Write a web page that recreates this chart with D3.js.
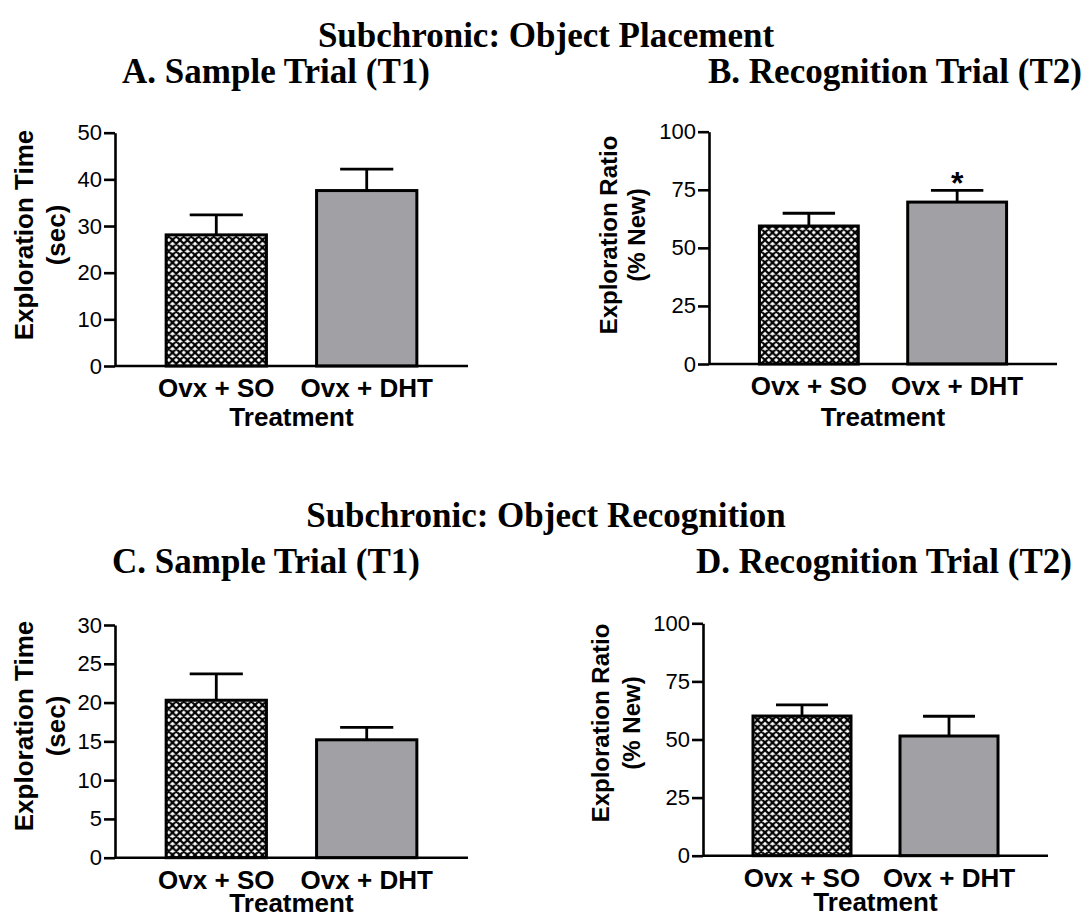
<!DOCTYPE html>
<html>
<head>
<meta charset="utf-8">
<script src="https://cdn.jsdelivr.net/npm/d3@7"></script>
<style>
  html, body { margin: 0; padding: 0; background: #ffffff; }
  svg { display: block; }
  .serif { font-family: "Liberation Serif", "Times New Roman", serif; font-weight: bold; }
  .sans { font-family: "Liberation Sans", Arial, Helvetica, sans-serif; }
</style>
</head>
<body>
<svg id="fig" width="1089" height="919"></svg>
<script>
// Treatment groups shared by every panel
const categories = ["Ovx + SO", "Ovx + DHT"];

// A. Object placement, sample trial: exploration time (sec), mean and SEM
const placementSampleMean = [28.1, 37.6];
const placementSampleSem = [4.3, 4.6];

// B. Object placement, recognition trial: exploration ratio (% new)
const placementRecogMean = [59.4, 69.7];
const placementRecogSem = [5.5, 5.0];
const placementRecogSig = [false, true];

// C. Object recognition, sample trial: exploration time (sec)
const recognitionSampleMean = [20.3, 15.2];
const recognitionSampleSem = [3.4, 1.6];

// D. Object recognition, recognition trial: exploration ratio (% new)
const recognitionRecogMean = [60.1, 51.5];
const recognitionRecogSem = [4.8, 8.5];
const recognitionRecogSig = [false, false];

// Tick labels
const ticksTime50 = [0, 10, 20, 30, 40, 50];
const ticksTime30 = [0, 5, 10, 15, 20, 25, 30];
const ticksRatio = [0, 25, 50, 75, 100];

// Titles
const sectionTitles = ["Subchronic: Object Placement", "Subchronic: Object Recognition"];
const panelTitles = ["A. Sample Trial (T1)", "B. Recognition Trial (T2)",
                     "C. Sample Trial (T1)", "D. Recognition Trial (T2)"];
const yTitleTime = ["Exploration Time", "(sec)"];
const yTitleRatio = ["Exploration Ratio", "(% New)"];
const xTitle = "Treatment";

const svg = d3.select("#fig");

// Cross-hatch fill for the control group, flat grey for DHT
const defs = svg.append("defs");
const hatch = defs.append("pattern")
  .attr("id", "hatch")
  .attr("patternUnits", "userSpaceOnUse")
  .attr("width", 7.5).attr("height", 7.5);
hatch.append("rect").attr("width", 7.5).attr("height", 7.5).attr("fill", "#ffffff");
hatch.append("path")
  .attr("d", "M-1,-1L8.5,8.5M8.5,-1L-1,8.5M-1,6.5L1,8.5M6.5,-1L8.5,1M6.5,8.5L8.5,6.5M-1,1L1,-1")
  .attr("stroke", "#000").attr("stroke-width", 2.2).attr("fill", "none");
const fills = ["url(#hatch)", "#a1a1a5"];

// Panel layout (pixel frame of each plot area)
const panels = [
  { title: panelTitles[0], titleX: 276, titleY: 83,
    mean: placementSampleMean, sem: placementSampleSem, sig: null,
    ticks: ticksTime50, yTitle: yTitleTime, yTitleSize: 26,
    x0: 115, x1: 468, yTop: 132.7, yBot: 366, xTitleDy: 60,
    yTitleX: [33, 65], yTitleCY: 235 },
  { title: panelTitles[1], titleX: 895, titleY: 83,
    mean: placementRecogMean, sem: placementRecogSem, sig: placementRecogSig,
    ticks: ticksRatio, yTitle: yTitleRatio, yTitleSize: 24,
    x0: 709, x1: 1057, yTop: 131.7, yBot: 364, xTitleDy: 62,
    yTitleX: [617, 645], yTitleCY: 235 },
  { title: panelTitles[2], titleX: 266, titleY: 573,
    mean: recognitionSampleMean, sem: recognitionSampleSem, sig: null,
    ticks: ticksTime30, yTitle: yTitleTime, yTitleSize: 26,
    x0: 115, x1: 468, yTop: 625, yBot: 857.7, xTitleDy: 54,
    yTitleX: [33, 65], yTitleCY: 726 },
  { title: panelTitles[3], titleX: 884, titleY: 573,
    mean: recognitionRecogMean, sem: recognitionRecogSem, sig: recognitionRecogSig,
    ticks: ticksRatio, yTitle: yTitleRatio, yTitleSize: 24,
    x0: 703, x1: 1048, yTop: 623.3, yBot: 855.7, xTitleDy: 55,
    yTitleX: [609, 640], yTitleCY: 723 }
];

// Section headings
[[sectionTitles[0], 47], [sectionTitles[1], 527]].forEach(([t, y]) => {
  svg.append("text").attr("class", "serif")
    .attr("x", 546).attr("y", y)
    .attr("text-anchor", "middle")
    .attr("font-size", 35)
    .text(t);
});

panels.forEach(p => {
  const g = svg.append("g");

  g.append("text").attr("class", "serif")
    .attr("x", p.titleX).attr("y", p.titleY)
    .attr("text-anchor", "middle").attr("font-size", 35)
    .text(p.title);

  const x = d3.scaleBand().domain(categories)
    .range([p.x0, p.x1]).paddingInner(1 / 3).paddingOuter(0.34);
  const y = d3.scaleLinear()
    .domain([0, d3.max(p.ticks)])
    .range([p.yBot, p.yTop]);

  const data = categories.map((c, i) => ({ c, i, m: p.mean[i], e: p.sem[i], s: p.sig ? p.sig[i] : false }));

  // bars
  g.selectAll("rect.bar").data(data).join("rect")
    .attr("class", "bar")
    .attr("x", d => x(d.c))
    .attr("width", x.bandwidth())
    .attr("y", d => y(d.m))
    .attr("height", d => y(0) - y(d.m))
    .attr("fill", d => fills[d.i])
    .attr("stroke", "#000").attr("stroke-width", 3);

  // error bars (upper only)
  const cap = x.bandwidth() * 0.265;
  g.selectAll("path.err").data(data).join("path")
    .attr("class", "err")
    .attr("d", d => {
      const cx = x(d.c) + x.bandwidth() / 2;
      return `M${cx},${y(d.m)}V${y(d.m + d.e)}M${cx - cap},${y(d.m + d.e)}H${cx + cap}`;
    })
    .attr("stroke", "#000").attr("stroke-width", 2.8).attr("fill", "none");

  // significance marker
  g.selectAll("text.sig").data(data.filter(d => d.s)).join("text")
    .attr("class", "sig sans")
    .attr("x", d => x(d.c) + x.bandwidth() / 2)
    .attr("y", d => y(d.m + d.e) + 4)
    .attr("text-anchor", "middle")
    .attr("font-size", 32).attr("font-weight", "bold")
    .text("*");

  // y axis
  const yAxis = d3.axisLeft(y).tickValues(p.ticks).tickSize(11).tickPadding(2).tickSizeOuter(0);
  const ya = g.append("g").attr("transform", `translate(${p.x0},0)`).call(yAxis);
  ya.select(".domain").attr("stroke", "#000").attr("stroke-width", 2.6);
  ya.selectAll(".tick line").attr("stroke", "#000").attr("stroke-width", 2.6);
  ya.selectAll(".tick text")
    .attr("class", "sans")
    .attr("font-size", 22).attr("fill", "#000");

  // x axis baseline with category labels
  const xAxis = d3.axisBottom(x).tickSize(0).tickSizeOuter(0).tickPadding(30);
  const xa = g.append("g").attr("transform", `translate(0,${p.yBot})`).call(xAxis);
  xa.select(".domain")
    .attr("d", `M${p.x0},0H${p.x1}`)
    .attr("stroke", "#000").attr("stroke-width", 2.6);
  xa.selectAll(".tick text")
    .attr("class", "sans")
    .attr("dy", 0)
    .attr("y", 31)
    .attr("font-size", 26).attr("font-weight", "bold").attr("fill", "#000");

  // x title
  g.append("text").attr("class", "sans")
    .attr("x", (x(categories[0]) + x(categories[1]) + x.bandwidth()) / 2)
    .attr("y", p.yBot + p.xTitleDy)
    .attr("text-anchor", "middle")
    .attr("font-size", 26).attr("font-weight", "bold")
    .text(xTitle);

  // y title, two lines
  p.yTitle.forEach((t, k) => {
    g.append("text").attr("class", "sans")
      .attr("transform", `translate(${p.yTitleX[k]},${p.yTitleCY}) rotate(-90)`)
      .attr("text-anchor", "middle")
      .attr("font-size", p.yTitleSize).attr("font-weight", "bold")
      .text(t);
  });
});
</script>
</body>
</html>
